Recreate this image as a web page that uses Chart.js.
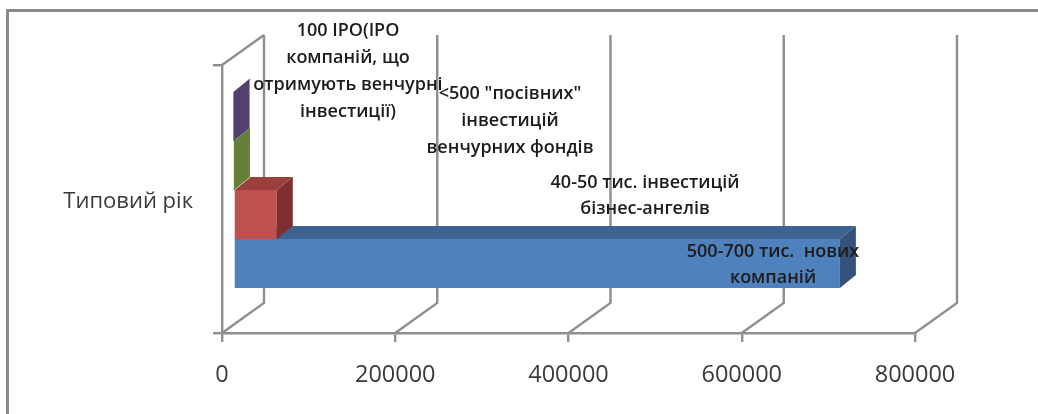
<!DOCTYPE html>
<html lang="uk">
<head>
<meta charset="utf-8">
<title>Типовий рік</title>
<script src="https://cdn.jsdelivr.net/npm/chart.js@4/dist/chart.umd.min.js"></script>
<style>
  html, body { margin: 0; padding: 0; background: #fff; }
  #frame { position: absolute; left: 0; top: 0; width: 1038px; height: 414px; }
</style>
</head>
<body>
<div id="frame"><canvas id="chart" width="1038" height="414"></canvas></div>
<script>
const categories = ["Типовий рік"];
const seriesNames = ["IPO", "Посівні інвестиції", "Бізнес-ангели", "Нові компанії"];
const seriesValues = [100, 500, 50000, 700000];
const seriesColors = ["#5f4a7d", "#6f8a3e", "#c0504d", "#4f81bd"];
const topColors = ["#4f3d69", "#5d7434", "#9c3f3c", "#3f6390"];
const sideColors = ["#54406f", "#628038", "#7f302e", "#34527a"];
const tickValues = [0, 200000, 400000, 600000, 800000];
const pointLabels = [
  ["100 IPO(IPO", "компаній, що", "отримують венчурні", "інвестиції)"],
  ["<500 \"посівних\"", "інвестицій", "венчурних фондів"],
  ["40-50 тис. інвестицій", "бізнес-ангелів"],
  ["500-700 тис.  нових", "компаній"]
];

// Perspective of the pseudo-3D box
const WALL_DX = 42, WALL_DY = -30;
const BAR_SHIFT_X = 11.5, BAR_SHIFT_Y = -9;
const BAR_DX = 16, BAR_DY = -13;
const GRID = "#8e8e8e";
const GRID_WIDTH = 2.4;

// Canvas placement of each multi-line bar note: centre x, first line y
const labelAnchors = [[348, 31], [510, 94], [645, 183], [773, 252]];
const labelLine = [27, 27, 26, 26];

const boxWalls = {
  id: "boxWalls",
  beforeDatasetsDraw(chart) {
    const { ctx, chartArea: a, scales: { x } } = chart;
    ctx.save();
    ctx.strokeStyle = GRID;
    ctx.lineWidth = GRID_WIDTH;
    ctx.beginPath();
    tickValues.forEach(v => {
      const px = x.getPixelForValue(v);
      ctx.moveTo(px, a.bottom);
      ctx.lineTo(px + WALL_DX, a.bottom + WALL_DY);
      ctx.lineTo(px + WALL_DX, a.top + WALL_DY);
    });
    const x0 = x.getPixelForValue(0);
    ctx.moveTo(x0, a.top);
    ctx.lineTo(x0 + WALL_DX, a.top + WALL_DY);
    ctx.stroke();
    ctx.restore();
  }
};

const boxBars = {
  id: "boxBars",
  beforeDatasetDraw(chart) {
    chart.ctx.save();
    chart.ctx.translate(BAR_SHIFT_X, BAR_SHIFT_Y);
  },
  afterDatasetDraw(chart, { index }) {
    const ctx = chart.ctx;
    const bar = chart.getDatasetMeta(index).data[0];
    const left = bar.base, right = bar.x;
    const top = bar.y - bar.height / 2, bottom = bar.y + bar.height / 2;
    ctx.fillStyle = topColors[index];
    ctx.beginPath();
    ctx.moveTo(left, top);
    ctx.lineTo(left + BAR_DX, top + BAR_DY);
    ctx.lineTo(right + BAR_DX, top + BAR_DY);
    ctx.lineTo(right, top);
    ctx.closePath();
    ctx.fill();
    ctx.fillStyle = sideColors[index];
    ctx.beginPath();
    ctx.moveTo(right, top);
    ctx.lineTo(right + BAR_DX, top + BAR_DY);
    ctx.lineTo(right + BAR_DX, bottom + BAR_DY);
    ctx.lineTo(right, bottom);
    ctx.closePath();
    ctx.fill();
    ctx.restore();
  }
};

const barLabels = {
  id: "barLabels",
  afterDraw(chart) {
    const ctx = chart.ctx;
    ctx.save();
    ctx.font = "600 18px 'Open Sans'";
    ctx.fillStyle = "#1c1c1c";
    ctx.textAlign = "center";
    ctx.textBaseline = "middle";
    pointLabels.forEach((lines, i) => {
      lines.forEach((line, j) => {
        ctx.fillText(line, labelAnchors[i][0], labelAnchors[i][1] + j * labelLine[i]);
      });
    });
    ctx.restore();
  }
};

const outerFrame = {
  id: "outerFrame",
  beforeDraw(chart) {
    const ctx = chart.ctx;
    ctx.save();
    ctx.strokeStyle = "#8a8a8a";
    ctx.lineWidth = 3;
    ctx.beginPath();
    ctx.moveTo(7.5, 414);
    ctx.lineTo(7.5, 10.5);
    ctx.lineTo(1038, 10.5);
    ctx.stroke();
    ctx.restore();
  }
};

new Chart(document.getElementById("chart"), {
  type: "bar",
  data: {
    labels: categories,
    datasets: seriesNames.map((name, i) => ({
      label: name,
      data: [seriesValues[i]],
      backgroundColor: seriesColors[i],
      borderWidth: 0,
      clip: false
    }))
  },
  plugins: [outerFrame, boxWalls, boxBars, barLabels],
  options: {
    indexAxis: "y",
    responsive: false,
    animation: false,
    layout: { padding: { left: 0, right: 123, top: 65, bottom: 0 } },
    categoryPercentage: 0.731,
    barPercentage: 1,
    plugins: { legend: { display: false }, tooltip: { enabled: false } },
    scales: {
      x: {
        type: "linear",
        position: "bottom",
        min: 0,
        max: 800000,
        afterFit(s) { s.height = 81; },
        afterBuildTicks(s) { s.ticks = tickValues.map(value => ({ value })); },
        grid: { drawOnChartArea: false, color: GRID, lineWidth: GRID_WIDTH, tickLength: 9 },
        border: { color: GRID, width: GRID_WIDTH },
        ticks: {
          color: "#3a3a3a",
          font: { family: "'Open Sans'", size: 23.5 },
          padding: 19,
          maxRotation: 0,
          autoSkip: false,
          callback: v => String(v)
        }
      },
      y: {
        type: "category",
        afterFit(s) { s.width = 222; },
        grid: { drawOnChartArea: false, color: GRID, lineWidth: GRID_WIDTH, tickLength: 9, offset: true },
        border: { color: GRID, width: GRID_WIDTH },
        ticks: {
          color: "#3a3a3a",
          font: { family: "'Open Sans'", size: 22 },
          padding: 20,
          labelOffset: 3
        }
      }
    }
  }
});
</script>
</body>
</html>
